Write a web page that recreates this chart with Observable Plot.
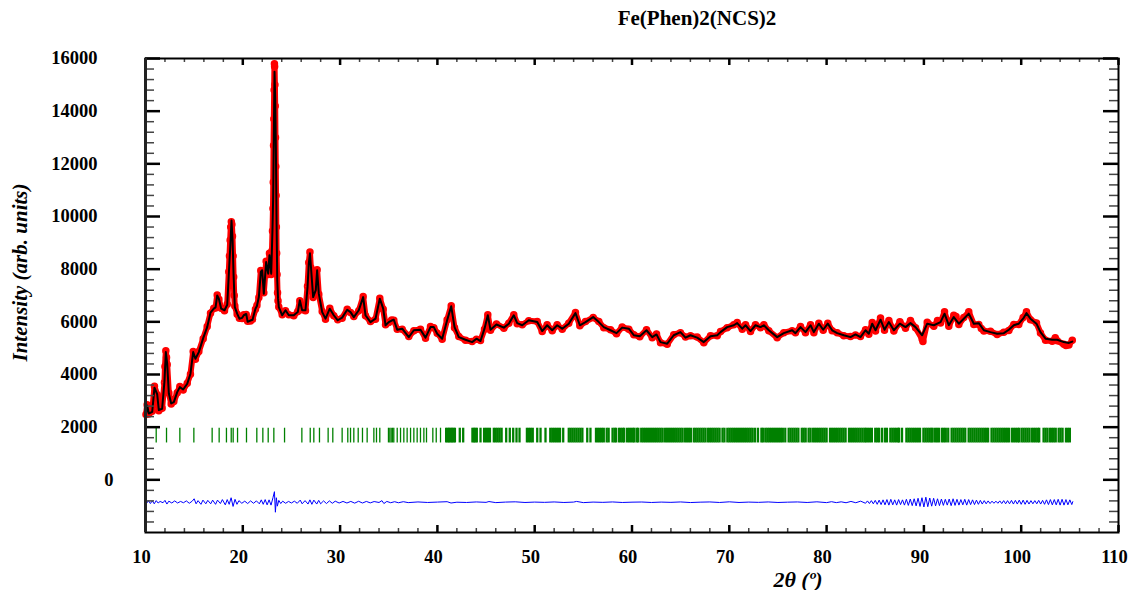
<!DOCTYPE html>
<html><head><meta charset="utf-8">
<script src="https://cdn.jsdelivr.net/npm/d3@7"></script>
<script src="https://cdn.jsdelivr.net/npm/@observablehq/plot@0.6"></script>
<style>
body{margin:0;background:#fff;width:1134px;height:590px;overflow:hidden;font-family:'Liberation Serif','Times New Roman',serif;}
#title{position:relative;height:40px;}
#title span{position:absolute;left:697px;top:6px;transform:translateX(-50%);font-weight:bold;font-size:21px;line-height:24px;white-space:nowrap;color:#000;}
</style></head><body>
<div id="title"><span id="ttl"></span></div>
<div id="chart"></div>
<script>
// ---- data (2θ in degrees, intensity in arb. units) ----
const titleText = "Fe(Phen)2(NCS)2";
const yLabel = "Intensity (arb. units)";
const xLabel = "2θ (º)";
const xTicks = [10,20,30,40,50,60,70,80,90,100,110];
const yTicks = [2000,4000,6000,8000,10000,12000,14000,16000];
const yZeroTick = [0];

// calculated profile (black line)
const calcProfile = [[10.05,2500],[10.17,2820],[10.34,2520],[10.69,2580],[10.92,3500],[11.2,3250],[11.37,2650],[11.71,2700],[11.95,3750],[12.09,4850],[12.23,4400],[12.4,3280],[12.64,2900],[12.91,2950],[13.26,3330],[13.53,3520],[13.87,3430],[14.29,3650],[14.62,4030],[14.9,4850],[15.13,4600],[15.48,4850],[15.93,5380],[16.34,5800],[16.68,6350],[17.02,6500],[17.2,6550],[17.37,7000],[17.54,6880],[17.78,6500],[18.12,6440],[18.4,6650],[18.56,7800],[18.72,8900],[18.84,9850],[18.95,9100],[19.05,7800],[19.18,6560],[19.42,6310],[19.65,6120],[19.93,6150],[20.1,6250],[20.35,6300],[20.5,6000],[20.79,6050],[21.0,6080],[21.3,6500],[21.45,6600],[21.65,6940],[21.85,7900],[21.99,7960],[22.16,7070],[22.4,8270],[22.61,7830],[22.74,8530],[22.92,7830],[23.05,9500],[23.12,10700],[23.2,13500],[23.26,15500],[23.33,14500],[23.4,12600],[23.47,9800],[23.54,7600],[23.62,6900],[23.7,6560],[24.05,6250],[24.39,6440],[24.73,6250],[25.24,6250],[25.65,6370],[25.86,6820],[26.1,6440],[26.44,6440],[26.65,7300],[26.78,8200],[26.9,8600],[27.0,8100],[27.23,6940],[27.5,7200],[27.64,7960],[27.81,7070],[28.16,6370],[28.5,6120],[28.94,6500],[29.35,6250],[29.76,6060],[30.21,6160],[30.73,6460],[31.07,6370],[31.41,6180],[31.92,6440],[32.37,6940],[32.61,6250],[33.12,5990],[33.64,6120],[34.08,6880],[34.43,6500],[34.67,5870],[35.0,5990],[35.3,6050],[35.52,6080],[35.87,5700],[36.38,5740],[37.06,5420],[37.58,5680],[38.26,5700],[38.78,5400],[39.29,5800],[39.63,5800],[39.98,5550],[40.49,5360],[41.0,6060],[41.42,6590],[41.76,5800],[42.2,5420],[42.89,5320],[43.57,5230],[44.02,5360],[44.43,5270],[44.84,5740],[45.18,6250],[45.46,5700],[46.07,5900],[46.83,5780],[47.34,5930],[47.85,6250],[48.2,5950],[48.72,5870],[49.39,6060],[50.26,5990],[50.77,5650],[51.28,5870],[51.8,5680],[52.31,5870],[52.83,5740],[53.5,5930],[54.19,6330],[54.64,5870],[55.22,5990],[56.01,6180],[56.59,5990],[57.1,5800],[57.79,5680],[58.41,5570],[58.99,5780],[59.67,5740],[60.19,5490],[60.8,5450],[61.49,5680],[62.08,5420],[62.52,5520],[62.93,5230],[63.62,5170],[64.29,5490],[64.98,5610],[65.5,5400],[66.01,5490],[66.7,5400],[67.38,5230],[68.07,5450],[68.76,5490],[69.1,5610],[69.78,5800],[70.46,5870],[70.81,5950],[71.33,5740],[71.67,5870],[72.18,5650],[72.69,5870],[73.21,5800],[73.55,5870],[74.06,5680],[74.92,5420],[75.6,5570],[76.46,5680],[76.8,5570],[77.32,5800],[77.83,5610],[78.35,5870],[78.69,5610],[79.2,5930],[79.65,5700],[80.12,5930],[80.57,5680],[81.09,5570],[81.77,5490],[82.46,5420],[82.97,5520],[83.48,5420],[84.0,5680],[84.34,5550],[84.69,5930],[85.03,5680],[85.54,6080],[85.95,5700],[86.4,5990],[86.91,5680],[87.53,5930],[88.11,5800],[88.62,5950],[89.14,5800],[89.82,5490],[90.34,5930],[91.02,5870],[91.71,5990],[92.12,6310],[92.56,5870],[93.07,6180],[93.59,5930],[94.1,6120],[94.61,6310],[95.13,5930],[95.64,5950],[96.16,5680],[96.84,5610],[97.53,5550],[98.21,5570],[98.73,5700],[99.24,5870],[99.75,5930],[100.2,6120],[100.54,6330],[100.95,6120],[101.57,5930],[101.98,5610],[102.5,5360],[103.19,5320],[103.7,5320],[104.38,5230],[104.9,5200],[105.25,5250]];

// observed profile (red circles)
const obsProfile = [[10.05,2480],[10.17,2850],[10.34,2500],[10.69,2600],[10.92,3550],[11.2,3230],[11.37,2620],[11.71,2720],[11.95,3700],[12.0,4300],[12.09,4900],[12.16,4650],[12.23,4380],[12.4,3300],[12.64,2880],[12.91,2970],[13.26,3310],[13.53,3540],[13.87,3410],[14.29,3670],[14.62,4010],[14.9,4870],[15.13,4580],[15.48,4870],[15.93,5360],[16.34,5820],[16.68,6330],[17.02,6520],[17.2,6530],[17.37,7020],[17.54,6860],[17.78,6520],[18.12,6420],[18.4,6670],[18.56,7900],[18.63,8500],[18.7,9100],[18.76,9600],[18.82,9800],[18.88,9700],[18.94,9250],[19.0,8500],[19.06,7700],[19.12,7000],[19.18,6600],[19.42,6290],[19.65,6140],[19.93,6130],[20.1,6270],[20.35,6280],[20.5,6020],[20.79,6030],[21.0,6100],[21.3,6480],[21.45,6620],[21.65,6920],[21.85,7950],[21.99,7900],[22.16,7100],[22.4,8300],[22.61,7800],[22.74,8600],[22.92,7800],[23.0,8700],[23.05,9450],[23.1,10300],[23.13,11300],[23.16,12700],[23.19,13700],[23.22,14800],[23.25,15800],[23.27,15700],[23.3,15000],[23.33,14200],[23.36,13000],[23.39,11900],[23.42,10800],[23.45,9600],[23.48,8600],[23.52,7800],[23.57,7100],[23.62,6800],[23.7,6560],[24.05,6270],[24.39,6420],[24.73,6270],[25.24,6230],[25.65,6390],[25.86,6800],[26.1,6460],[26.44,6420],[26.65,7350],[26.78,8250],[26.9,8650],[27.0,8050],[27.23,6920],[27.5,7250],[27.64,7980],[27.81,7050],[28.16,6390],[28.5,6100],[28.94,6520],[29.35,6230],[29.76,6080],[30.21,6140],[30.73,6480],[31.07,6350],[31.41,6200],[31.92,6420],[32.37,6960],[32.61,6230],[33.12,6010],[33.64,6100],[34.08,6900],[34.43,6480],[34.67,5890],[35.0,5970],[35.3,6070],[35.52,6060],[35.87,5720],[36.38,5720],[37.06,5440],[37.58,5660],[38.26,5720],[38.78,5380],[39.29,5820],[39.63,5780],[39.98,5570],[40.49,5340],[41.0,6080],[41.42,6610],[41.76,5780],[42.2,5440],[42.89,5300],[43.57,5250],[44.02,5340],[44.43,5290],[44.84,5720],[45.18,6270],[45.46,5680],[46.07,5920],[46.83,5760],[47.34,5950],[47.85,6270],[48.2,5930],[48.72,5890],[49.39,6040],[50.26,6010],[50.77,5630],[51.28,5890],[51.8,5660],[52.31,5890],[52.83,5720],[53.5,5950],[54.19,6350],[54.64,5850],[55.22,6010],[56.01,6160],[56.59,6010],[57.1,5780],[57.79,5700],[58.41,5550],[58.99,5800],[59.67,5720],[60.19,5510],[60.8,5430],[61.49,5700],[62.08,5400],[62.52,5540],[62.93,5210],[63.62,5150],[64.29,5510],[64.98,5590],[65.5,5420],[66.01,5470],[66.7,5420],[67.38,5210],[68.07,5470],[68.76,5470],[69.1,5630],[69.78,5780],[70.46,5890],[70.81,5970],[71.33,5720],[71.67,5890],[72.18,5630],[72.69,5890],[73.21,5780],[73.55,5890],[74.06,5660],[74.92,5400],[75.6,5590],[76.46,5660],[76.8,5590],[77.32,5820],[77.83,5590],[78.35,5890],[78.69,5590],[79.2,5950],[79.65,5680],[80.12,5950],[80.57,5660],[81.09,5590],[81.77,5470],[82.46,5440],[82.97,5500],[83.48,5440],[84.0,5700],[84.34,5530],[84.69,5970],[85.03,5650],[85.54,6150],[85.95,5680],[86.4,6050],[86.91,5650],[87.53,6000],[88.11,5760],[88.62,6050],[89.14,5780],[89.82,5350],[89.9,5250],[90.34,5980],[91.02,5830],[91.4,6050],[91.71,5960],[92.12,6380],[92.56,5830],[93.07,6250],[93.3,6200],[93.59,5900],[94.1,6160],[94.61,6380],[95.13,5900],[95.64,5900],[95.9,5750],[96.16,5650],[96.84,5640],[97.53,5520],[98.21,5600],[98.73,5670],[99.24,5900],[99.75,5900],[100.2,6160],[100.54,6380],[100.95,6080],[101.57,5960],[101.98,5580],[102.5,5300],[103.19,5260],[103.5,5400],[103.7,5280],[104.38,5150],[104.6,5100],[104.9,5120],[105.25,5300]];

// difference curve (obs - calc, shifted down)
const diffProfile = [[10.1,-900],[10.3,-790],[10.5,-900],[10.7,-800],[10.9,-910],[11.1,-790],[11.3,-880],[11.5,-820],[11.8,-870],[12.0,-780],[12.2,-920],[12.4,-810],[12.7,-880],[13.0,-800],[13.3,-880],[13.6,-820],[13.9,-870],[14.2,-800],[14.5,-890],[14.8,-810],[15.0,-720],[15.2,-910],[15.4,-790],[15.7,-930],[15.9,-770],[16.2,-910],[16.4,-780],[16.7,-910],[16.9,-770],[17.2,-930],[17.4,-770],[17.7,-900],[17.9,-750],[18.2,-950],[18.4,-750],[18.6,-930],[18.8,-680],[19.0,-1010],[19.2,-740],[19.4,-930],[19.6,-790],[19.9,-890],[20.2,-810],[20.5,-900],[20.8,-800],[21.1,-890],[21.4,-800],[21.7,-910],[21.9,-760],[22.1,-930],[22.3,-750],[22.5,-950],[22.7,-760],[22.9,-960],[23.1,-680],[23.25,-450],[23.35,-1230],[23.45,-680],[23.55,-1000],[23.7,-780],[23.9,-900],[24.1,-810],[24.4,-890],[24.7,-820],[25.0,-880],[25.3,-810],[25.6,-890],[25.9,-770],[26.1,-910],[26.4,-790],[26.7,-920],[26.9,-760],[27.1,-930],[27.3,-770],[27.6,-920],[27.8,-780],[28.0,-910],[28.3,-800],[28.6,-900],[28.9,-800],[29.2,-890],[29.5,-810],[29.9,-880],[30.3,-820],[30.7,-880],[31.1,-820],[31.5,-885],[31.9,-815],[32.3,-880],[32.7,-820],[33.1,-875],[33.5,-825],[34.0,-860],[34.3,-790],[34.5,-900],[34.8,-820],[35.2,-870],[35.6,-830],[36,-870],[36.5,-830],[37,-865],[38,-840],[39,-860],[40,-845],[41,-830],[41.4,-880],[42,-850],[43,-860],[44,-840],[45,-855],[45.3,-825],[46,-865],[47,-845],[48,-835],[49,-860],[50,-845],[51,-855],[52,-840],[53,-860],[54,-845],[54.3,-820],[55,-865],[56,-845],[57,-855],[58,-840],[59,-860],[60,-848],[61,-842],[62,-860],[63,-845],[64,-855],[65,-840],[66,-862],[67,-848],[68,-840],[69,-860],[70,-835],[71,-860],[72,-845],[73,-855],[74,-840],[75,-860],[76,-848],[77,-840],[78,-860],[79,-835],[80,-865],[80.5,-830],[81,-865],[81.5,-835],[82,-870],[82.5,-820],[83,-870],[83.5,-810],[84,-890],[84.2,-800],[84.4,-900],[84.6,-790],[84.8,-910],[85.0,-780],[85.2,-930],[85.4,-770],[85.6,-940],[85.8,-760],[86.0,-950],[86.2,-750],[86.4,-960],[86.6,-740],[86.8,-950],[87.0,-760],[87.2,-960],[87.4,-750],[87.6,-940],[87.8,-760],[88.0,-960],[88.2,-740],[88.4,-970],[88.6,-730],[88.8,-980],[89.0,-720],[89.2,-990],[89.4,-700],[89.6,-1010],[89.8,-680],[90.0,-1030],[90.2,-660],[90.4,-1020],[90.6,-690],[90.8,-1000],[91.0,-700],[91.2,-990],[91.4,-720],[91.6,-980],[91.8,-730],[92.0,-970],[92.2,-740],[92.4,-960],[92.6,-730],[92.8,-980],[93.0,-720],[93.2,-970],[93.4,-740],[93.6,-960],[93.8,-750],[94.0,-950],[94.2,-740],[94.4,-960],[94.6,-750],[94.8,-940],[95.0,-760],[95.2,-940],[95.4,-770],[95.6,-930],[95.8,-780],[96.0,-920],[96.2,-790],[96.4,-910],[96.6,-800],[96.8,-900],[97.0,-810],[97.2,-890],[97.4,-810],[97.6,-890],[97.8,-800],[98.0,-900],[98.2,-790],[98.4,-910],[98.6,-790],[98.8,-910],[99.0,-780],[99.2,-920],[99.4,-780],[99.6,-920],[99.8,-770],[100.0,-930],[100.2,-770],[100.4,-930],[100.6,-780],[100.8,-920],[101.0,-790],[101.2,-910],[101.4,-790],[101.6,-910],[101.8,-780],[102.0,-920],[102.2,-780],[102.4,-930],[102.6,-760],[102.8,-940],[103.0,-750],[103.2,-950],[103.4,-750],[103.6,-950],[103.8,-740],[104.0,-960],[104.2,-740],[104.4,-960],[104.6,-750],[104.8,-950],[105.0,-760],[105.2,-940],[105.3,-830]];

// Bragg reflection positions (green ticks)
const braggLow = [11.10,12.16,13.53,14.97,16.85,17.57,18.32,18.81,19.01,19.46,20.38,21.44,22.06,22.61,23.19,24.29,26.07,26.93,27.30,27.88,28.77,29.25,30.21,30.79,31.07,31.41,31.86,32.30,32.78,33.47,33.74,34.08,34.97,35.11,35.25,35.39,35.52,35.87,36.21,36.55,36.89,37.24,37.58,37.92,38.26,38.61,38.88,39.53,39.88,40.32];
const braggHigh = [40.9,41.05,41.2,41.35,41.5,41.65,41.8,42.30,42.65,43.6,43.75,43.9,44.05,44.43,44.8,45.0,45.2,45.4,45.8,46.0,46.2,46.4,46.6,47.07,47.44,47.79,48.13,48.44,49.2,49.4,49.6,49.8,50.26,50.6,51.11,51.6,51.8,52.0,52.2,52.4,52.6,52.93,53.5,53.7,53.9,54.1,54.3,54.5,54.7,54.9,55.40,55.73,56.3,56.5,56.7,56.9,57.1,57.4,57.6,58.0,58.2,58.35,58.65,58.85,59.05,59.2,59.5,59.7,59.9,60.1,60.25,60.5,60.65,60.95,61.15,61.35,61.55,61.75,61.95,62.15,62.35,62.55,62.75,62.95,63.15,63.4,63.6,63.8,64.0,64.2,64.4,64.6,64.8,65.0,65.2,65.45,65.65,65.85,66.05,66.35,66.55,66.75,66.95,67.15,67.35,67.55,67.8,68.0,68.2,68.4,68.6,68.8,69.0,69.3,69.5,69.8,70.0,70.2,70.4,70.6,70.8,71.0,71.2,71.4,71.6,71.8,72.0,72.2,72.4,72.65,72.95,73.3,73.45,73.7,73.9,74.1,74.3,74.5,74.7,74.9,75.1,75.3,75.5,75.75,76.1,76.3,76.5,76.7,76.9,77.1,77.45,77.65,77.85,78.15,78.35,78.6,78.8,79.0,79.2,79.4,79.6,79.8,80.0,80.35,80.55,80.75,80.95,81.15,81.35,81.55,81.75,81.95,82.3,82.5,82.7,82.9,83.1,83.3,83.5,83.7,83.9,84.05,84.25,84.45,84.65,85.0,85.2,85.4,85.7,86.0,86.2,86.55,86.75,86.95,87.15,87.35,87.45,87.75,88.2,88.4,88.6,88.8,89.0,89.2,89.4,89.6,89.95,90.15,90.35,90.55,90.75,90.9,91.15,91.35,91.55,91.85,92.05,92.25,92.5,92.85,93.05,93.25,93.45,93.65,93.85,94.05,94.25,94.6,94.8,95.0,95.2,95.4,95.6,95.8,96.0,96.2,96.4,96.6,96.95,97.15,97.35,97.55,97.75,97.95,98.15,98.35,98.55,98.75,99.05,99.25,99.45,99.65,99.8,100.05,100.25,100.45,100.65,100.85,101.1,101.3,101.5,101.7,101.85,102.3,102.5,102.7,102.95,103.15,103.35,103.55,103.85,104.05,104.25,104.6,104.8,105.0];

// ---- chart ----
document.getElementById("ttl").textContent = titleText;
const W = 1134, H = 550, mL = 145, mR = 16, mT = 18, mB = 58;
const fw = W - mL - mR, fh = H - mT - mB;
const xMinor = d3.range(12, 110, 2).filter(v => v % 10 !== 0);
const yMinor = d3.range(-1600, 16000, 400).filter(v => v % 2000 !== 0);
const yMajorAll = [0].concat(yTicks);
const fmt = d => String(d);

const chart = Plot.plot({
  width: W, height: H,
  marginLeft: mL, marginRight: mR, marginTop: mT, marginBottom: mB,
  x: {domain: [10, 110]},
  y: {domain: [-2000, 16000]},
  style: {fontFamily: "'Liberation Serif','Times New Roman',serif", fontSize: "18.5px", fontWeight: "bold", color: "#000", background: "#fff", overflow: "visible"},
  marks: [
    Plot.ruleX(braggLow, {x: d => d, y1: 1400, y2: 1960, stroke: "#008000", strokeWidth: 1.3}),
    Plot.ruleX(braggHigh, {x: d => d, y1: 1400, y2: 1960, stroke: "#008000", strokeWidth: 2.3}),
    Plot.line(diffProfile, {x: d => d[0], y: d => d[1], stroke: "#0000ff", strokeWidth: 1}),
    Plot.line(obsProfile, {x: d => d[0], y: d => d[1], stroke: "#ff0000", strokeWidth: 6, strokeLinejoin: "round"}),
    Plot.dot(obsProfile, {x: d => d[0], y: d => d[1], r: 3, stroke: "#ff0000", strokeWidth: 1.5, fill: "none"}),
    Plot.line(calcProfile, {x: d => d[0], y: d => d[1], stroke: "#000", strokeWidth: 2}),
    // ticks (inward) on all four sides
    Plot.tickY(yMajorAll, {y: d => d, insetRight: fw - 15, stroke: "#000", strokeWidth: 2.5}),
    Plot.tickY(yMinor, {y: d => d, insetRight: fw - 9, stroke: "#444", strokeWidth: 1.5}),
    Plot.tickY(yMajorAll, {y: d => d, insetLeft: fw - 15, stroke: "#000", strokeWidth: 2.5}),
    Plot.tickY(yMinor, {y: d => d, insetLeft: fw - 9, stroke: "#444", strokeWidth: 1.5}),
    Plot.tickX(xTicks, {x: d => d, insetTop: fh - 7, stroke: "#000", strokeWidth: 2.5}),
    Plot.tickX(xMinor, {x: d => d, insetTop: fh - 4, stroke: "#444", strokeWidth: 1.5}),
    Plot.tickX(xTicks, {x: d => d, insetBottom: fh - 7, stroke: "#000", strokeWidth: 2.5}),
    Plot.tickX(xMinor, {x: d => d, insetBottom: fh - 4, stroke: "#444", strokeWidth: 1.5}),
    Plot.frame({stroke: "#000", strokeWidth: 2}),
    Plot.ruleX([10], {stroke: "#222", strokeWidth: 3}),
    Plot.axisX({ticks: xTicks, tickSize: 0, tickPadding: 17, dx: -4, tickFormat: fmt, label: null}),
    Plot.axisY({ticks: yTicks, tickSize: 0, tickPadding: 48, tickFormat: fmt, label: null}),
    Plot.axisY({ticks: yZeroTick, tickSize: 0, tickPadding: 32, tickFormat: fmt, label: null}),
    Plot.text([yLabel], {text: d => d, frameAnchor: "left", textAnchor: "middle", lineAnchor: "middle", dx: -125, dy: -23, rotate: -90, fontSize: 21, fontStyle: "italic", fontWeight: "bold"}),
    Plot.text([xLabel], {text: d => d, frameAnchor: "bottom", textAnchor: "middle", lineAnchor: "middle", dx: 166, dy: 47, fontSize: 22, fontStyle: "italic", fontWeight: "bold"})
  ]
});
document.getElementById("chart").appendChild(chart);
</script>
</body></html>
